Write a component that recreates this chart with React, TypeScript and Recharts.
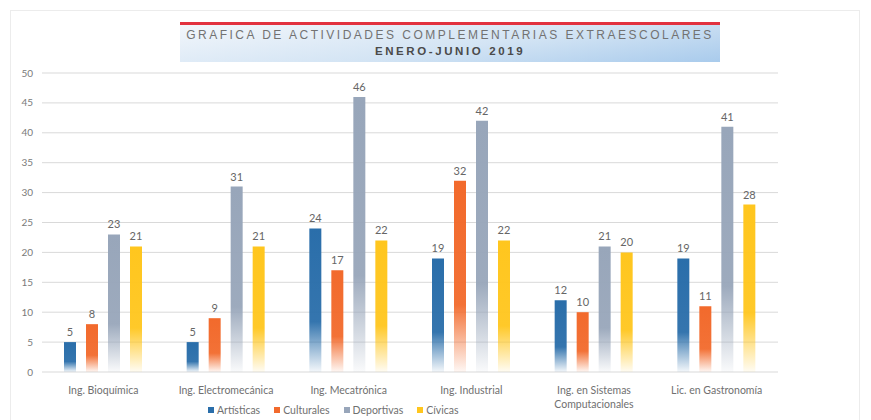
import { BarChart, Bar, XAxis, YAxis, CartesianGrid, LabelList } from 'recharts';

const categories = [
  'Ing. Bioquímica',
  'Ing. Electromecánica',
  'Ing. Mecatrónica',
  'Ing. Industrial',
  'Ing. en Sistemas\nComputacionales',
  'Lic. en Gastronomía',
];
const artisticas = [5, 5, 24, 19, 12, 19];
const culturales = [8, 9, 17, 32, 10, 11];
const deportivas = [23, 31, 46, 42, 21, 41];
const civicas = [21, 21, 22, 22, 20, 28];
const yTicks = [0, 5, 10, 15, 20, 25, 30, 35, 40, 45, 50];

const series = [
  { key: 'artisticas', name: 'Artísticas', color: '#2a6eaa' },
  { key: 'culturales', name: 'Culturales', color: '#f26a2c' },
  { key: 'deportivas', name: 'Deportivas', color: '#98a6ba' },
  { key: 'civicas', name: 'Cívicas', color: '#ffc61e' },
];

const data = categories.map((name, i) => ({
  name,
  artisticas: artisticas[i],
  culturales: culturales[i],
  deportivas: deportivas[i],
  civicas: civicas[i],
}));

const FONT = 'Lato, "Open Sans", sans-serif';

const CategoryTick = (props: any) => {
  const { x, y, payload } = props;
  const lines = String(payload.value).split('\n');
  return (
    <text x={x} y={y} textAnchor="middle" fill="#707070" fontSize={10.5} fontFamily={FONT}>
      {lines.map((line, i) => (
        <tspan key={i} x={x} dy={i === 0 ? '0.71em' : '1.25em'}>
          {line}
        </tspan>
      ))}
    </text>
  );
};

const App = () => {
  return (
    <div style={{ position: 'absolute', left: 0, top: 0, width: 871, height: 420, background: '#fff' }}>
      {/* marco */}
      <div
        style={{
          position: 'absolute',
          left: 10,
          top: 10,
          width: 850,
          height: 420,
          border: '1px solid #ececec',
          boxSizing: 'border-box',
        }}
      />
      {/* titulo */}
      <div
        style={{
          position: 'absolute',
          left: 180,
          top: 22,
          width: 540,
          height: 40,
          borderTop: '3px solid #e2323f',
          background: 'linear-gradient(172deg, #f2f6fb 0%, #d3e4f4 55%, #a9cbec 100%)',
          boxSizing: 'border-box',
          textAlign: 'center',
          fontFamily: '"Liberation Sans", Arial, sans-serif',
          color: '#727272',
          lineHeight: '16px',
          paddingTop: 2,
          whiteSpace: 'nowrap',
        }}
      >
        <div style={{ fontSize: 12, letterSpacing: 2.5 }}>
          GRAFICA DE ACTIVIDADES COMPLEMENTARIAS EXTRAESCOLARES
        </div>
        <div style={{ fontSize: 11.5, fontWeight: 'bold', color: '#4a4a4a', letterSpacing: 2.6 }}>
          ENERO-JUNIO 2019
        </div>
      </div>

      <BarChart
        width={871}
        height={420}
        data={data}
        margin={{ top: 73, right: 93, left: 0, bottom: 18 }}
        barSize={12}
        barGap={10}
      >
        <defs>
          {series.map((s) => (
            <linearGradient key={s.key} id={`grad-${s.key}`} x1="0" y1="0" x2="0" y2="1">
              <stop offset="0%" stopColor={s.color} stopOpacity={1} />
              <stop offset="65%" stopColor={s.color} stopOpacity={0.95} />
              <stop offset="100%" stopColor={s.color} stopOpacity={0.05} />
            </linearGradient>
          ))}
        </defs>

        <CartesianGrid stroke="#d9d9d9" vertical={false} />

        <XAxis
          dataKey="name"
          axisLine={false}
          tickLine={false}
          tickMargin={9}
          height={30}
          interval={0}
          tick={<CategoryTick />}
        />
        <YAxis
          domain={[0, 50]}
          ticks={yTicks}
          axisLine={false}
          tickLine={false}
          width={42}
          tickMargin={3}
          tick={{ fill: '#7a7a7a', fontSize: 10, fontFamily: FONT }}
        />

        {series.map((s) => (
          <Bar
            key={s.key}
            dataKey={s.key}
            name={s.name}
            fill={`url(#grad-${s.key})`}
            isAnimationActive={false}
          >
            <LabelList
              dataKey={s.key}
              position="top"
              offset={6}
              fill="#666666"
              fontSize={11}
              fontFamily={FONT}
            />
          </Bar>
        ))}
      </BarChart>

      {/* leyenda */}
      <div
        style={{
          position: 'absolute',
          left: 208,
          top: 403,
          display: 'flex',
          gap: 14,
          fontFamily: FONT,
          fontSize: 10.5,
          color: '#707070',
          lineHeight: '14px',
        }}
      >
        {series.map((s) => (
          <div key={s.key} style={{ display: 'flex', alignItems: 'center', gap: 3 }}>
            <span style={{ width: 6, height: 6, background: s.color, display: 'inline-block' }} />
            <span>{s.name}</span>
          </div>
        ))}
      </div>
    </div>
  );
};

export default App;
